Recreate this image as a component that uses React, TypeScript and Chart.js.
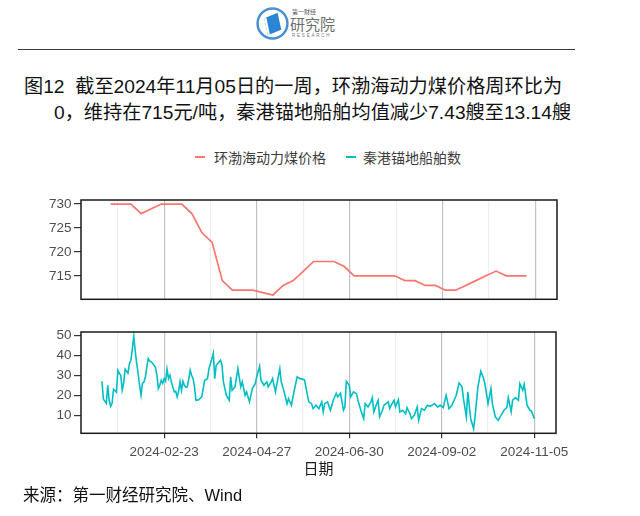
import React, { useEffect, useRef } from 'react';
import { Chart, registerables } from 'chart.js';

Chart.register(...registerables);

// ---------------- data ----------------
const coalDates = [
  '2024-01-17', '2024-01-24', '2024-01-31', '2024-02-07', '2024-02-14', '2024-02-21',
  '2024-02-28', '2024-03-06', '2024-03-13', '2024-03-20', '2024-03-27', '2024-04-03',
  '2024-04-10', '2024-04-17', '2024-04-24', '2024-05-01', '2024-05-08', '2024-05-15',
  '2024-05-22', '2024-05-29', '2024-06-05', '2024-06-12', '2024-06-19', '2024-06-26',
  '2024-07-03', '2024-07-10', '2024-07-17', '2024-07-24', '2024-07-31', '2024-08-07',
  '2024-08-14', '2024-08-21', '2024-08-28', '2024-09-04', '2024-09-11', '2024-09-18',
  '2024-09-25', '2024-10-02', '2024-10-09', '2024-10-16', '2024-10-23', '2024-10-30',
];
const coalPrices = [
  730, 730, 730, 728, 729, 730,
  730, 730, 728, 724, 722, 714,
  712, 712, 712, 711.5, 711, 713,
  714, 716, 718, 718, 718, 717,
  715, 715, 715, 715, 715, 714,
  714, 713, 713, 712, 712, 713,
  714, 715, 716, 715, 715, 715,
];

// days since 2024-01-01
const shipDays = [
  10, 11, 13, 14, 15, 16, 17, 18, 20, 21, 22, 23, 24, 25, 26, 28, 29, 30, 31, 32,
  33, 34, 35, 36, 37, 38, 39, 40, 41, 42, 43, 44, 45, 47, 48, 49, 50, 51, 52, 53,
  54, 55, 56, 57, 58, 60, 61, 62, 63, 64, 65, 66, 67, 68, 69, 70, 71, 72, 73, 74,
  75, 77, 79, 81, 83, 84, 86, 87, 88, 89, 92, 93, 94, 96, 98, 99, 100, 102, 104, 106,
  107, 109, 110, 112, 114, 116, 117, 119, 120, 122, 124, 125, 127, 128, 130, 131, 133, 134, 136, 138,
  139, 141, 143, 145, 147, 150, 151, 153, 155, 156, 158, 160, 162, 163, 164, 166, 168, 170, 172, 173,
  175, 177, 178, 179, 181, 182, 184, 186, 187, 189, 191, 192, 194, 196, 197, 198, 200, 201, 202, 204,
  205, 208, 209, 210, 212, 213, 215, 216, 218, 220, 221, 223, 224, 226, 228, 229, 231, 233, 235, 237,
  240, 242, 244, 246, 248, 249, 250, 252, 255, 257, 259, 260, 262, 263, 265, 267, 268, 270, 272, 274,
  275, 277, 279, 280, 282, 284, 286, 288, 290, 291, 293, 294, 296, 298, 299, 301, 302, 304, 306, 307,
  309,
];
const shipCounts = [
  27, 18, 16, 25, 17.5, 14.5, 16, 23, 21.5, 32.5, 31, 30, 22.5, 26, 33, 31, 35.8, 37.5, 43, 49.5,
  42, 36, 31, 25, 20, 26, 26.5, 29, 34, 38.3, 37, 36.7, 36, 34, 30, 23.3, 25, 27.5, 26, 28.3,
  27, 33, 28.3, 30, 26.7, 21.7, 22, 19.2, 22, 26.7, 22.5, 27, 25, 24, 24.2, 28, 32.5, 30, 28.3, 24.2,
  17.5, 17.8, 19.2, 27.5, 28.3, 33.3, 38.3, 41, 28.3, 35, 37.5, 35, 26.7, 20, 17.5, 29.2, 22.5, 24.2, 33.3, 24.2,
  26.7, 20, 21.7, 16.7, 23.3, 25.8, 29.2, 34.5, 27.5, 25, 26.7, 24.2, 26.7, 28.3, 21.7, 25.8, 33.3, 26.7, 21.7, 15.8,
  18.3, 15, 22.5, 29.2, 28.3, 27.8, 24.2, 16.7, 15.8, 13.3, 15, 13.3, 16.7, 11.7, 15.8, 16.7, 12.5, 17.5, 21, 19.2,
  21, 12.5, 14.2, 27, 25, 19.2, 21.7, 20.8, 17.5, 12.5, 8.3, 15.8, 14.2, 16.7, 18.8, 11.7, 15.8, 17.5, 9.2, 12.5,
  15, 16.7, 13.3, 15, 17.5, 14.2, 17.8, 11.7, 12.5, 10.8, 13.8, 10.8, 8.3, 10, 14.2, 7.5, 13.3, 12.5, 15, 14.5,
  15.8, 14.2, 15, 13.8, 20, 16.7, 13.3, 15, 20, 26.2, 24.2, 18.3, 9.2, 21.7, 8.3, 3.3, 9.2, 24.2, 32, 28.3,
  25, 15.8, 23.3, 15.8, 9.2, 7.5, 10, 12.5, 13.8, 18.8, 11.7, 17.5, 18.8, 17.5, 25.8, 22.5, 25.5, 15, 12.5, 12.2,
  8.3,
];

const xTickLabels = ['2024-02-23', '2024-04-27', '2024-06-30', '2024-09-02', '2024-11-05'];
const coalTicks = [715, 720, 725, 730];
const shipTicks = [10, 20, 30, 40, 50];

const seriesNames = ['环渤海动力煤价格', '秦港锚地船舶数'];
const seriesColors = ['#F8766D', '#00BFC4'];

// ---------------- helpers ----------------
const EPOCH = Date.UTC(2024, 0, 1);
const DAY_MS = 86400000;
const toDay = (s: string) => Math.round((Date.parse(s + 'T00:00:00Z') - EPOCH) / DAY_MS);

const majorDays = xTickLabels.map(toDay);
const majorStep = majorDays[1] - majorDays[0];
const gridDays: number[] = [];
majorDays.forEach((d) => {
  gridDays.push(d - majorStep / 2);
  gridDays.push(d);
});
const labelFor = (v: number) => {
  const i = majorDays.indexOf(v);
  return i >= 0 ? xTickLabels[i] : '';
};
const isMajor = (v: any) => majorDays.indexOf(v) >= 0;

const X_MIN = -4.5;
const X_MAX = 324;
const TICK_FONT = { family: "'Liberation Sans', Arial, sans-serif", size: 13.5 };
const TICK_COLOR = '#4d4d4d';

const framePlugin = {
  id: 'panelFrame',
  afterDatasetsDraw(chart: any) {
    const { ctx, chartArea: a } = chart;
    ctx.save();
    ctx.strokeStyle = '#1a1a1a';
    ctx.lineWidth = 1.5;
    ctx.strokeRect(a.left, a.top, a.right - a.left, a.bottom - a.top);
    ctx.restore();
  },
};

function xScale(showLabels: boolean) {
  return {
    type: 'linear',
    min: X_MIN,
    max: X_MAX,
    afterBuildTicks: (s: any) => {
      s.ticks = gridDays.filter((v) => v >= X_MIN && v <= X_MAX).map((v) => ({ value: v }));
    },
    afterFit: (s: any) => {
      s.height = showLabels ? 44 : 0;
    },
    ticks: {
      display: showLabels,
      autoSkip: false,
      maxRotation: 0,
      padding: 5.5,
      font: TICK_FONT,
      color: TICK_COLOR,
      callback: (v: any) => labelFor(v),
    },
    grid: {
      color: (ctx: any) => (isMajor(ctx.tick && ctx.tick.value) ? '#c2c2c2' : '#eeeeee'),
      lineWidth: 1.2,
      drawTicks: showLabels,
      tickLength: 5,
      tickColor: (ctx: any) => (isMajor(ctx.tick && ctx.tick.value) ? '#333333' : 'rgba(0,0,0,0)'),
    },
    border: { display: false },
    title: showLabels
      ? {
          display: true,
          text: '日期',
          color: '#1a1a1a',
          font: { family: "'Noto Sans CJK SC', sans-serif", size: 15 },
          padding: { top: 0, bottom: 0 },
        }
      : { display: false },
  };
}

function yScale(min: number, max: number, ticks: number[]) {
  return {
    type: 'linear',
    min,
    max,
    afterBuildTicks: (s: any) => {
      s.ticks = ticks.map((v) => ({ value: v }));
    },
    afterFit: (s: any) => {
      s.width = 81;
      s.paddingTop = 0;
      s.paddingBottom = 0;
    },
    ticks: { font: TICK_FONT, color: TICK_COLOR, padding: 2.5 },
    grid: { drawOnChartArea: false, drawTicks: true, tickLength: 7, tickColor: '#333333', lineWidth: 1.2 },
    border: { display: false },
  };
}

// ---------------- component ----------------
export default function App() {
  const topRef = useRef<HTMLCanvasElement>(null);
  const botRef = useRef<HTMLCanvasElement>(null);

  useEffect(() => {
    const top = new Chart(topRef.current as HTMLCanvasElement, {
      type: 'line',
      data: {
        datasets: [
          {
            label: seriesNames[0],
            data: coalDates.map((d, i) => ({ x: toDay(d), y: coalPrices[i] })),
            borderColor: seriesColors[0],
            backgroundColor: seriesColors[0],
            borderWidth: 1.7,
            pointRadius: 0,
            tension: 0,
            fill: false,
          },
        ],
      },
      options: {
        animation: false,
        responsive: false,
        layout: { padding: { left: 0, right: 83, top: 10, bottom: 5.7 } },
        plugins: { legend: { display: false }, tooltip: { enabled: false } },
        scales: { x: xScale(false) as any, y: yScale(710.1, 730.85, coalTicks) as any },
      },
      plugins: [framePlugin],
    });

    const bot = new Chart(botRef.current as HTMLCanvasElement, {
      type: 'line',
      data: {
        datasets: [
          {
            label: seriesNames[1],
            data: shipDays.map((d, i) => ({ x: d, y: shipCounts[i] })),
            borderColor: seriesColors[1],
            backgroundColor: seriesColors[1],
            borderWidth: 1.6,
            pointRadius: 0,
            tension: 0,
            fill: false,
          },
        ],
      },
      options: {
        animation: false,
        responsive: false,
        layout: { padding: { left: 0, right: 84, top: 10, bottom: 38.7 } },
        plugins: { legend: { display: false }, tooltip: { enabled: false } },
        scales: { x: xScale(true) as any, y: yScale(1.0, 51.6, shipTicks) as any },
      },
      plugins: [framePlugin],
    });

    return () => {
      top.destroy();
      bot.destroy();
    };
  }, []);

  const cjk = "'Liberation Sans', 'Noto Sans CJK SC', sans-serif";

  return (
    <div
      style={{
        position: 'absolute',
        left: 0,
        top: 0,
        width: 640,
        height: 516,
        background: '#ffffff',
        overflow: 'hidden',
        fontFamily: cjk,
      }}
    >
      {/* logo */}
      <svg style={{ position: 'absolute', left: 256, top: 6 }} width="33" height="35" viewBox="0 0 32 34">
        <circle cx="16" cy="17" r="14.5" fill="none" stroke="#4a90cf" strokeWidth="2.4" />
        <polygon points="8,12 21,6.5 24.5,23 11.5,28.5" fill="#2a86d4" />
        <polygon points="8,12 10,11.2 13.5,27.7 11.5,28.5" fill="#ffffff" />
      </svg>
      <div style={{ position: 'absolute', left: 292, top: 8, fontSize: 6, lineHeight: '7px', color: '#555', fontFamily: "'Noto Sans CJK SC', sans-serif" }}>
        第一财经
      </div>
      <div style={{ position: 'absolute', left: 290, top: 15, fontSize: 15, lineHeight: '18px', color: '#6e6e6e', fontFamily: "'Noto Sans CJK SC', sans-serif" }}>
        研究院
      </div>
      <div style={{ position: 'absolute', left: 292, top: 33, fontSize: 4.5, lineHeight: '5px', letterSpacing: 1.8, color: '#777', fontFamily: 'Arial, sans-serif' }}>
        RESEARCH
      </div>

      {/* rule */}
      <div style={{ position: 'absolute', left: 18, top: 48.5, width: 557, height: 1.5, background: '#3a3a3a' }} />

      {/* title */}
      <div style={{ position: 'absolute', left: 24, top: 74, fontSize: 19.2, lineHeight: '26px', color: '#111', whiteSpace: 'pre' }}>
        {'图12  截至2024年11月05日的一周，环渤海动力煤价格周环比为'}
      </div>
      <div style={{ position: 'absolute', left: 54, top: 100, fontSize: 19.2, lineHeight: '26px', color: '#111', whiteSpace: 'pre' }}>
        {'0，维持在715元/吨，秦港锚地船舶均值减少7.43艘至13.14艘'}
      </div>

      {/* legend */}
      <div style={{ position: 'absolute', left: 195, top: 156, width: 10, height: 2, background: seriesColors[0] }} />
      <div style={{ position: 'absolute', left: 214, top: 149, fontSize: 14, lineHeight: '16px', color: '#3c3c3c', fontFamily: "'Noto Sans CJK SC', sans-serif" }}>
        {seriesNames[0]}
      </div>
      <div style={{ position: 'absolute', left: 346, top: 156, width: 10, height: 2, background: seriesColors[1] }} />
      <div style={{ position: 'absolute', left: 363, top: 149, fontSize: 14, lineHeight: '16px', color: '#3c3c3c', fontFamily: "'Noto Sans CJK SC', sans-serif" }}>
        {seriesNames[1]}
      </div>

      {/* charts */}
      <canvas ref={topRef} width={640} height={115} style={{ position: 'absolute', left: 0, top: 190, width: 640, height: 115 }} />
      <canvas ref={botRef} width={640} height={194} style={{ position: 'absolute', left: 0, top: 322, width: 640, height: 194 }} />

      {/* source */}
      <div style={{ position: 'absolute', left: 23, top: 485, fontSize: 16.5, lineHeight: '20px', color: '#111' }}>
        来源：第一财经研究院、Wind
      </div>
    </div>
  );
}
